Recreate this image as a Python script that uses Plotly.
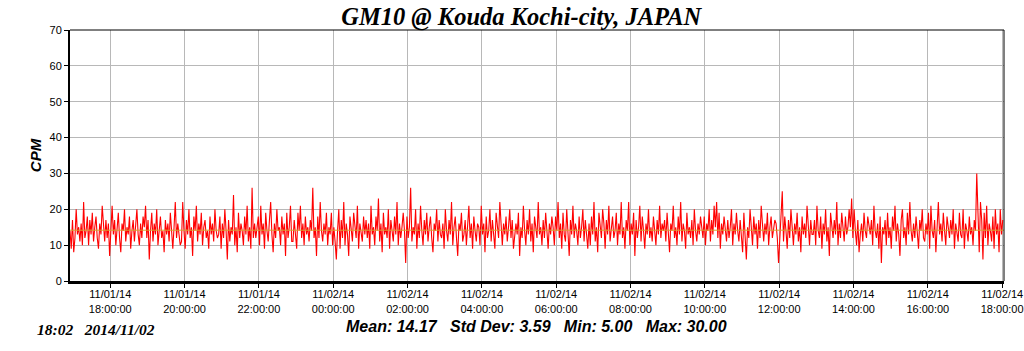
import plotly.graph_objects as go
import pandas as pd

START = "2014-11-01 16:55"
STEP_MIN = 2

cpm = [
    14, 9, 17, 8, 12, 20, 13, 15, 11, 16, 10, 22, 12, 14, 18, 10, 17, 13, 19, 11, 15, 18, 12, 9, 16, 13, 21, 14, 11, 17,
    12, 16, 7, 14, 21, 13, 17, 10, 15, 19, 12, 8, 16, 14, 20, 11, 15, 13, 18, 9, 14, 17, 11, 15, 20, 13, 10, 16, 12, 18,
    15, 21, 12, 17, 6, 14, 19, 11, 16, 13, 20, 10, 15, 18, 12, 14, 8, 17, 13, 16, 11, 19, 14, 9, 15, 22, 12, 16, 13, 10,
    11, 22, 14, 9, 17, 13, 20, 12, 15, 7, 18, 14, 21, 11, 16, 13, 19, 10, 15, 17, 12, 14, 9, 18, 13, 16, 11, 20, 14, 12,
    13, 18, 9, 16, 12, 20, 14, 6, 17, 11, 15, 13, 24, 10, 15, 8, 19, 12, 16, 14, 10, 18, 13, 21, 11, 15, 9, 26, 12, 16,
    12, 15, 18, 10, 21, 13, 16, 9, 19, 14, 11, 17, 22, 13, 8, 16, 12, 20, 14, 15, 10, 18, 13, 16, 7, 19, 12, 15, 21, 11,
    11, 17, 13, 9, 19, 14, 21, 12, 16, 10, 18, 13, 15, 11, 17, 14, 26, 12, 15, 7, 18, 12, 22, 14, 11, 16, 13, 19, 10, 15,
    13, 19, 10, 15, 11, 6, 14, 20, 9, 17, 12, 22, 10, 16, 13, 7, 18, 14, 11, 19, 15, 12, 21, 9, 16, 14, 11, 18, 13, 17,
    12, 16, 9, 21, 13, 15, 10, 18, 14, 23, 11, 16, 8, 19, 13, 15, 12, 20, 9, 17, 14, 11, 18, 13, 22, 10, 16, 12, 15, 19,
    14, 5, 18, 12, 15, 26, 11, 15, 13, 20, 9, 16, 12, 21, 14, 10, 17, 13, 19, 11, 15, 18, 12, 8, 16, 14, 20, 11, 17, 13,
    12, 16, 9, 20, 14, 11, 17, 13, 22, 10, 15, 18, 12, 7, 16, 14, 19, 11, 13, 17, 10, 15, 21, 12, 16, 9, 18, 14, 11, 16,
    15, 10, 21, 13, 16, 8, 18, 12, 14, 20, 11, 17, 13, 9, 19, 15, 12, 22, 14, 10, 16, 13, 18, 11, 15, 20, 12, 17, 9, 14,
    16, 13, 19, 7, 15, 12, 21, 14, 10, 17, 13, 20, 11, 16, 8, 18, 14, 12, 22, 13, 15, 10, 17, 12, 19, 14, 9, 16, 13, 18,
    15, 10, 18, 14, 22, 12, 16, 9, 19, 13, 11, 20, 15, 7, 17, 13, 21, 12, 16, 14, 10, 18, 12, 15, 20, 11, 17, 13, 9, 16,
    10, 18, 13, 22, 11, 15, 8, 19, 14, 12, 20, 16, 9, 17, 13, 21, 11, 15, 18, 12, 14, 19, 10, 16, 13, 22, 12, 15, 9, 17,
    14, 22, 10, 16, 13, 19, 7, 17, 12, 15, 21, 11, 18, 14, 9, 16, 13, 20, 12, 15, 11, 18, 14, 10, 17, 13, 21, 12, 16, 14,
    17, 11, 19, 13, 8, 16, 14, 21, 12, 15, 10, 18, 13, 22, 11, 16, 14, 9, 19, 13, 15, 12, 17, 10, 20, 14, 11, 16, 13, 18,
    15, 12, 18, 10, 16, 14, 20, 11, 17, 13, 21, 15, 22, 12, 19, 9, 16, 13, 18, 14, 11, 17, 12, 15, 20, 10, 16, 13, 19, 14,
    11, 17, 13, 8, 19, 12, 6, 15, 12, 20, 14, 10, 18, 13, 16, 9, 17, 12, 21, 14, 11, 16, 13, 19, 10, 15, 18, 12, 14, 17,
    16, 12, 5, 13, 18, 25, 11, 18, 14, 9, 17, 12, 20, 15, 10, 16, 13, 19, 11, 15, 8, 18, 13, 16, 12, 21, 14, 10, 17, 13,
    13, 17, 10, 21, 14, 12, 18, 9, 16, 13, 20, 11, 15, 7, 19, 14, 12, 17, 13, 22, 10, 16, 12, 19, 14, 11, 18, 13, 15, 20,
    15, 23, 12, 20, 14, 10, 17, 8, 13, 16, 11, 19, 14, 12, 18, 15, 13, 17, 10, 21, 14, 12, 16, 9, 18, 5, 15, 13, 17, 10,
    19, 12, 15, 9, 18, 14, 21, 11, 16, 13, 7, 17, 20, 12, 15, 10, 19, 13, 22, 14, 11, 16, 12, 18, 13, 9, 17, 14, 20, 12,
    11, 16, 13, 19, 9, 21, 14, 12, 17, 8, 15, 22, 13, 16, 11, 19, 14, 10, 18, 15, 12, 17, 13, 20, 9, 16, 14, 11, 19, 13,
    12, 20, 9, 16, 14, 11, 18, 13, 15, 10, 17, 14, 30, 15, 8, 22, 17, 6, 19, 12, 21, 10, 16, 14, 11, 18, 9, 20, 13, 16,
    8, 20, 13, 17,
]

MEAN = 14.17
STATS = "Mean: 14.17   Std Dev: 3.59   Min: 5.00   Max: 30.00"
TITLE = "GM10 @ Kouda Kochi-city, JAPAN"
STAMP = "18:02   2014/11/02"
X_RANGE = ["2014-11-01 16:55", "2014-11-02 18:03"]
tick_vals = pd.date_range("2014-11-01 18:00", "2014-11-02 18:00", freq="2h")
tick_text = [t.strftime("%m/%d/%y<br>%H:%M:%S") for t in tick_vals]
y_ticks = [0, 10, 20, 30, 40, 50, 60, 70]

times = pd.date_range(START, periods=len(cpm), freq=f"{STEP_MIN}min")

fig = go.Figure()
fig.add_trace(go.Scatter(x=times, y=cpm, mode="lines",
                         line=dict(color="#ff0000", width=1.1), hoverinfo="skip"))
fig.add_trace(go.Scatter(x=X_RANGE, y=[MEAN, MEAN], mode="lines",
                         line=dict(color="#d8a030", width=1), hoverinfo="skip"))

axis_font = dict(family="Liberation Sans, Arial, sans-serif", size=11, color="#000000")
fig.update_layout(
    width=1024, height=351,
    margin=dict(l=70, r=20, t=30, b=70),
    paper_bgcolor="white", plot_bgcolor="white",
    showlegend=False,
    title=dict(text="<b><i>" + TITLE + "</i></b>", x=0.509, xanchor="center",
               y=0.952, yanchor="middle",
               font=dict(family="Liberation Serif, Times New Roman, serif", size=24.5, color="#000")),
    xaxis=dict(range=X_RANGE, tickvals=tick_vals, ticktext=tick_text,
               tickfont=axis_font, showgrid=True, gridcolor="#b8b8b8", gridwidth=1,
               showline=True, linecolor="#000", linewidth=3, ticks="outside",
               ticklen=4, tickcolor="#000", zeroline=False, automargin=False,
               ticklabelstandoff=-3),
    yaxis=dict(range=[0, 70], tickvals=y_ticks, tickfont=axis_font,
               showgrid=True, gridcolor="#b8b8b8", gridwidth=1,
               showline=True, linecolor="#000", linewidth=2, ticks="outside",
               ticklen=4, tickcolor="#000", zeroline=False, automargin=False,
               title=dict(text="<b><i>CPM</i></b>", standoff=4,
                          font=dict(family="Liberation Sans, Arial, sans-serif", size=15, color="#000"))),
    shapes=[
        dict(type="line", xref="paper", yref="paper", x0=0, x1=1, y0=1, y1=1,
             line=dict(color="#000", width=1)),
        dict(type="line", xref="paper", yref="paper", x0=1, x1=1, y0=0, y1=1,
             line=dict(color="#000", width=1)),
    ],
    annotations=[
        dict(text="<b><i>" + STATS + "</i></b>", xref="paper", yref="paper",
             x=0.2934, y=-0.183, xanchor="left", yanchor="middle", showarrow=False,
             font=dict(family="Liberation Sans, Arial, sans-serif", size=16, color="#000")),
        dict(text="<b><i>" + STAMP + "</i></b>", xref="paper", yref="paper",
             x=-0.0375, y=-0.195, xanchor="left", yanchor="middle", showarrow=False,
             font=dict(family="Liberation Serif, Times New Roman, serif", size=15.5, color="#000")),
    ],
)

fig.write_html("out.html")
